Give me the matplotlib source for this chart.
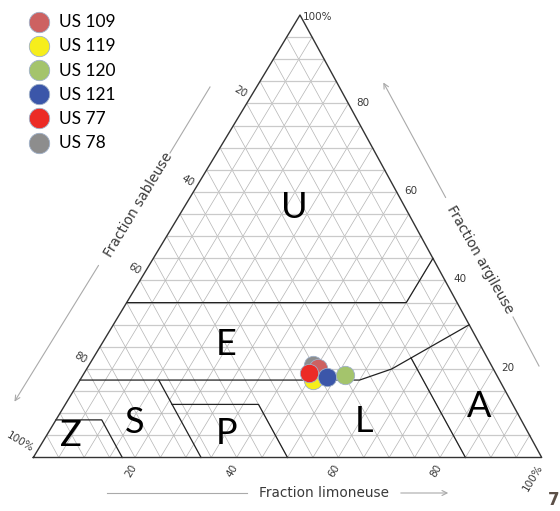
import numpy as np
import matplotlib.pyplot as plt

# samples: texture in % (silt = fraction limoneuse, clay = fraction argileuse)
SAMPLES = ["US 109", "US 119", "US 120", "US 121", "US 77", "US 78"]
SILT = [45.5, 45.9, 51.6, 48.2, 44.3, 44.1]
CLAY = [20.2, 17.5, 18.6, 18.1, 19.0, 20.9]
COLORS = ["#cd6161", "#f6ee1c", "#a4c46c", "#3b56a9", "#ec2b26", "#8d8d8d"]
DRAW_ORDER = [5, 0, 1, 4, 3, 2]

# texture class boundaries, as (silt, clay) polylines
BOUNDARIES = [
    [(0, 35), (55, 35), (55, 45)],                   # U / E
    [(0, 17.5), (55, 17.5), (60, 20), (70, 30)],     # E / lower classes
    [(62.5, 22.5), (85, 0)],                         # L / A
    [(15.5, 17.5), (33, 0)],                         # S / P-L
    [(21, 12), (38, 12), (50, 0)],                   # P
    [(0, 8.5), (9, 8.5), (17.5, 0)],                 # Z
]

CLASS_NAMES = ["U", "E", "Z", "S", "P", "L", "A"]
CLASS_SILT = [21.7, 24.5, 4.8, 15.8, 35.1, 60.7, 81.6]
CLASS_CLAY = [56.4, 25.6, 4.9, 8.0, 5.5, 8.1, 11.5]

TICKS = [20, 40, 60, 80]

# triangle corners in figure pixels (the scanned triangle is a bit skewed)
BL = (33.3, 457.5)
BR = (541.7, 457.5)
TOP = (300.0, 15.0)

GRID_C = "#b4b4b4"
TXT_C = "#3a3a3a"


def tern(silt, clay):
    s = np.asarray(silt, dtype=float) / 100
    c = np.asarray(clay, dtype=float) / 100
    x = BL[0] + s * (BR[0] - BL[0]) + c * (TOP[0] - BL[0])
    y = BL[1] + s * (BR[1] - BL[1]) + c * (TOP[1] - BL[1])
    return x, y


fig = plt.figure(figsize=(5.6, 5.11), dpi=100)
ax = fig.add_axes([0, 0, 1, 1])
ax.set_xlim(0, 560)
ax.set_ylim(511, 0)
ax.axis("off")

# 5 % grid in the three directions
for k in range(5, 100, 5):
    x, y = tern([0, 100 - k], [k, k])
    ax.plot(x, y, color="#cacaca", lw=0.9, zorder=1)
    x, y = tern([k, k], [0, 100 - k])
    ax.plot(x, y, color=GRID_C, lw=0.5, zorder=1)
    x, y = tern([100 - k, 0], [0, 100 - k])
    ax.plot(x, y, color=GRID_C, lw=0.5, zorder=1)

# outline
x, y = tern([0, 100, 0, 0], [0, 0, 100, 0])
ax.plot(x, y, color="#333333", lw=1.0, zorder=3)

# class boundaries
for line in BOUNDARIES:
    s, c = zip(*line)
    x, y = tern(s, c)
    ax.plot(x, y, color="#222222", lw=0.9, zorder=2)

for name, s, c in zip(CLASS_NAMES, CLASS_SILT, CLASS_CLAY):
    x, y = tern(s, c)
    ax.text(x, y, name, fontsize=26, family="Lato", ha="center",
            va="center", color="black", zorder=4)

# tick labels
for t in TICKS + [100]:
    lab = f"{t}%" if t == 100 else str(t)
    # silt, bottom
    x, y = tern(t, 0)
    ax.text(x - 1, y + 8, lab, rotation=59, rotation_mode="anchor",
            ha="right", va="center", fontsize=7.5, color=TXT_C)
    # sand, left
    x, y = tern(0, 100 - t)
    ax.text(x - 3, y - 4, lab, rotation=-31, rotation_mode="anchor",
            ha="right", va="bottom", fontsize=7.5, color=TXT_C)
    # clay, right
    x, y = tern(100 - t, t)
    ax.text(x + (3 if t == 100 else 8), y + (2 if t == 100 else -1), lab,
            ha="left", va="center", fontsize=7.5, color=TXT_C)

# axis titles with guide arrows
arrow = dict(arrowstyle="->", color="#aaaaaa", lw=0.8, mutation_scale=9)
ax.text(324, 493, "Fraction limoneuse", fontsize=9.8, ha="center",
        va="center", color=TXT_C)
ax.plot([107, 247], [493, 493], color="#aaaaaa", lw=0.8)
ax.annotate("", xy=(451, 493), xytext=(398, 493), arrowprops=arrow)

ax.text(138.5, 205, "Fraction sableuse", fontsize=9.8, rotation=58.9,
        ha="center", va="center", color=TXT_C, rotation_mode="anchor")
ax.plot([210, 170], [87, 153], color="#aaaaaa", lw=0.8)
ax.annotate("", xy=(13, 404), xytext=(100, 263), arrowprops=arrow)

ax.text(480, 260, "Fraction argileuse", fontsize=9.8, rotation=-60.5,
        ha="center", va="center", color=TXT_C, rotation_mode="anchor")
ax.annotate("", xy=(382, 80), xytext=(447, 200), arrowprops=arrow)
ax.plot([513, 539], [317, 366], color="#aaaaaa", lw=0.8)

# samples
for i in DRAW_ORDER:
    x, y = tern(SILT[i], CLAY[i])
    ax.scatter(x, y, s=175, color=COLORS[i], edgecolors="#9fb0c8",
               linewidths=0.6, zorder=5)

# legend
for i, name in enumerate(SAMPLES):
    yy = 21.7 + i * 24.2
    ax.scatter(39.3, yy, s=215, color=COLORS[i], edgecolors="#9fb0c8",
               linewidths=0.6, zorder=5)
    ax.text(59, yy + 0.5, name, fontsize=12.5, family="Lato", ha="left",
            va="center", color="black")

ax.text(548, 500, "7", fontsize=12, fontweight="bold", color="#5b5047",
        ha="left", va="center")

fig.savefig("out.png", dpi=100)
